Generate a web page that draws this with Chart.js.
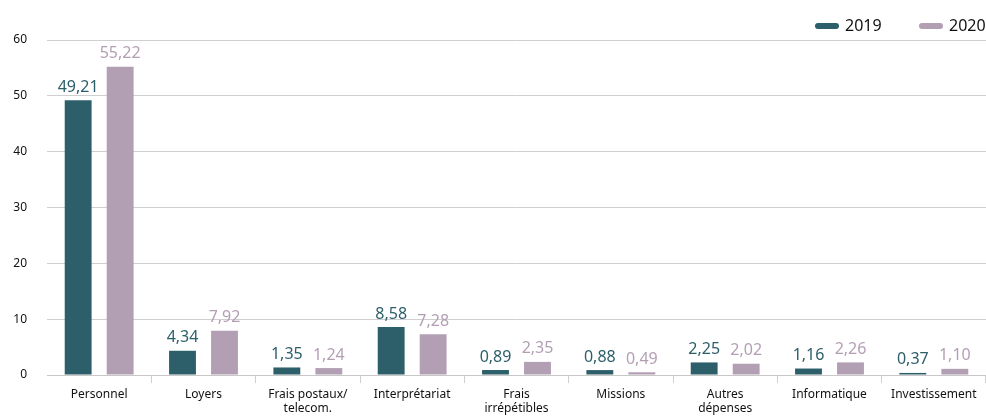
<!DOCTYPE html>
<html lang="fr">
<head>
<meta charset="UTF-8">
<title>Dépenses 2019 / 2020</title>
<script src="https://cdn.jsdelivr.net/npm/chart.js@4.4.0/dist/chart.umd.min.js"></script>
<style>
  * { margin: 0; padding: 0; box-sizing: border-box; }
  body { background: #fff; width: 986px; height: 418px; overflow: hidden; }
  #wrap { width: 986px; height: 418px; }
</style>
</head>
<body>
<div id="wrap"><canvas id="chart"></canvas></div>
<script>
const categories = [
  'Personnel', 'Loyers', ['Frais postaux/', 'telecom.'], 'Interprétariat',
  ['Frais', 'irrépétibles'], 'Missions', ['Autres', 'dépenses'], 'Informatique', 'Investissement'
];
const values2019 = [49.21, 4.34, 1.35, 8.58, 0.89, 0.88, 2.25, 1.16, 0.37];
const values2020 = [55.22, 7.92, 1.24, 7.28, 2.35, 0.49, 2.02, 2.26, 1.10];
const yTicks = [0, 10, 20, 30, 40, 50, 60];

const C2019 = '#2c5f6a';
const C2020 = '#b39fb3';
const FONT = "'Noto Sans', sans-serif";

// value labels above each bar, decimal comma
const valueLabels = {
  id: 'valueLabels',
  afterDatasetsDraw(chart) {
    const ctx = chart.ctx;
    ctx.save();
    ctx.font = '16px ' + FONT;
    ctx.textAlign = 'center';
    ctx.textBaseline = 'bottom';
    chart.data.datasets.forEach((ds, i) => {
      ctx.fillStyle = ds.backgroundColor;
      chart.getDatasetMeta(i).data.forEach((bar, j) => {
        ctx.fillText(ds.data[j].toFixed(2).replace('.', ','), bar.x, bar.y - 5);
      });
    });
    ctx.restore();
  }
};

// top-right legend: rounded line marker + year
const lineLegend = {
  id: 'lineLegend',
  afterDraw(chart) {
    const ctx = chart.ctx;
    const starts = [815, 919];
    ctx.save();
    ctx.font = '16px ' + FONT;
    ctx.textBaseline = 'middle';
    chart.data.datasets.forEach((ds, i) => {
      const x = starts[i], y = 26;
      ctx.strokeStyle = ds.backgroundColor;
      ctx.lineWidth = 6;
      ctx.lineCap = 'round';
      ctx.beginPath();
      ctx.moveTo(x + 3, y);
      ctx.lineTo(x + 21, y);
      ctx.stroke();
      ctx.fillStyle = '#111';
      ctx.fillText(ds.label, x + 30, y);
    });
    ctx.restore();
  }
};

new Chart(document.getElementById('chart'), {
  type: 'bar',
  data: {
    labels: categories,
    datasets: [
      { label: '2019', data: values2019, backgroundColor: C2019 },
      { label: '2020', data: values2020, backgroundColor: C2020 }
    ]
  },
  options: {
    responsive: true,
    maintainAspectRatio: false,
    animation: false,
    layout: { padding: { left: 0, right: 0, top: 40, bottom: 0 } },
    datasets: { bar: { categoryPercentage: 0.805, barPercentage: 0.64 } },
    plugins: {
      legend: { display: false },
      tooltip: { enabled: false }
    },
    scales: {
      x: {
        grid: {
          drawOnChartArea: false,
          tickLength: 8,
          color: (c) => (c.index === 0 ? 'rgba(0,0,0,0)' : '#cfcfcf'),
          lineWidth: 1
        },
        border: { color: '#c8c8c8' },
        ticks: {
          color: '#111',
          font: { family: FONT, size: 12 },
          maxRotation: 0,
          autoSkip: false,
          padding: 4
        },
        afterFit: (scale) => {
          scale.height = 43;
          scale.paddingLeft = 0;
          scale.paddingRight = 0;
        }
      },
      y: {
        min: 0,
        max: 60,
        afterBuildTicks: (scale) => { scale.ticks = yTicks.map(v => ({ value: v })); },
        grid: { color: '#cfcfcf', drawTicks: false },
        border: { display: false },
        ticks: {
          color: '#111',
          font: { family: FONT, size: 12 },
          padding: 20
        },
        afterFit: (scale) => { scale.width = 47; }
      }
    }
  },
  plugins: [valueLabels, lineLegend]
});
</script>
</body>
</html>
